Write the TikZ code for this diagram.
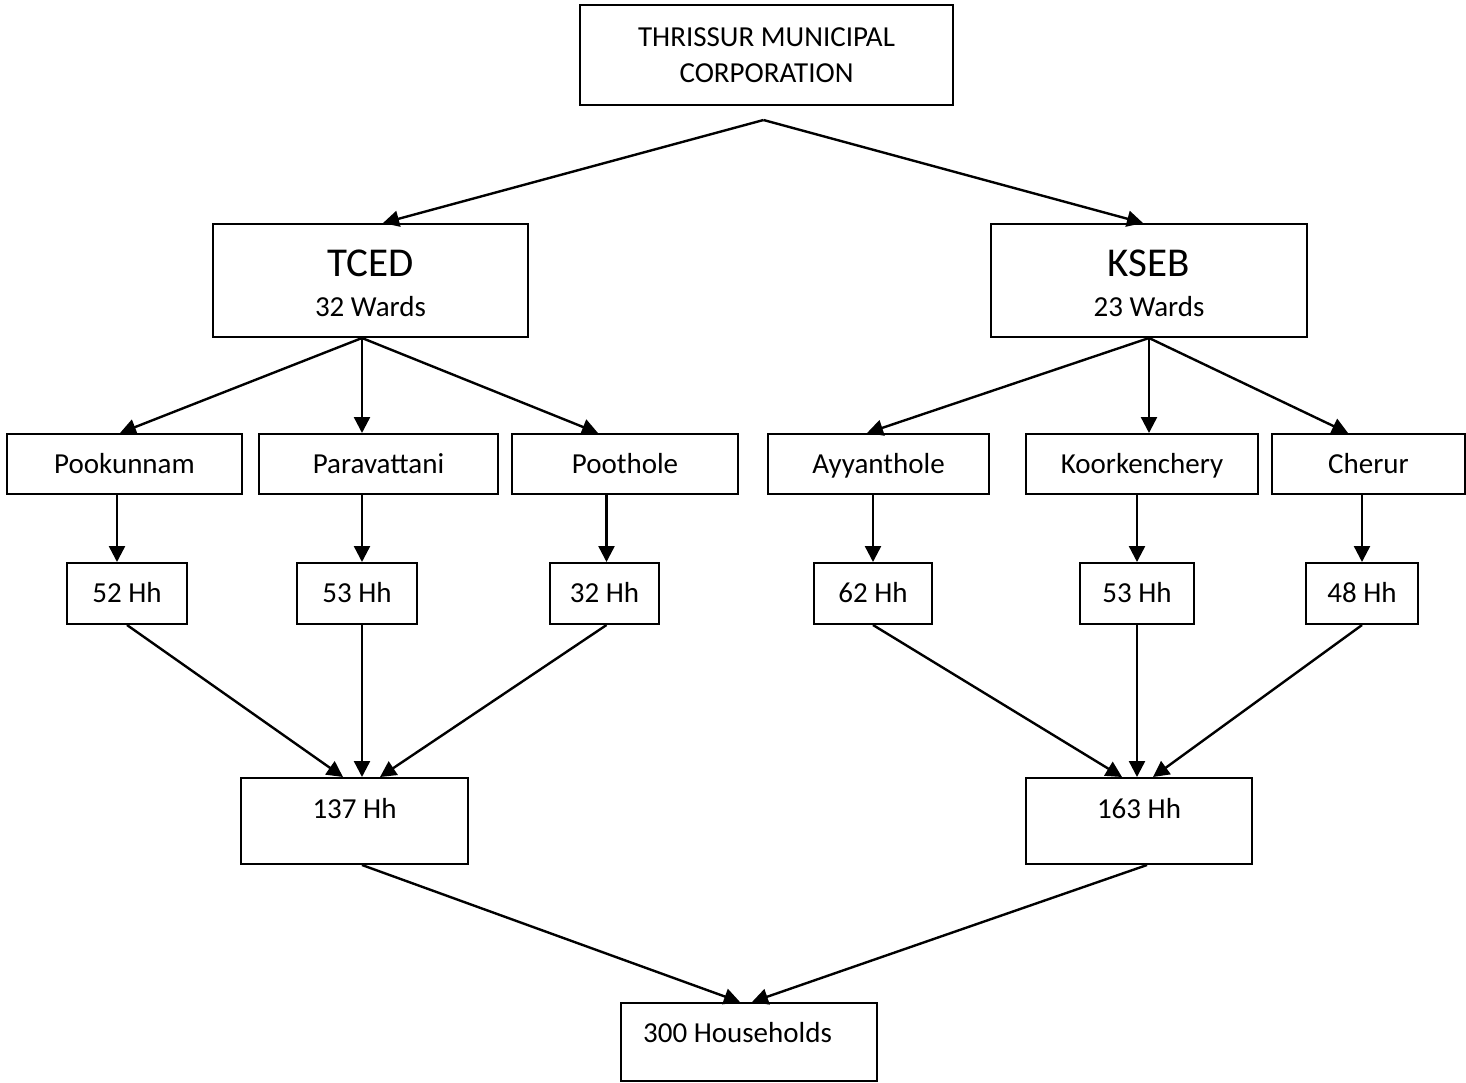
\documentclass[tikz,border=0pt]{standalone}
\usepackage{fontspec}
\setmainfont{Carlito}
\usepackage{tikz}
\usetikzlibrary{arrows.meta,calc}

\begin{document}
\begin{tikzpicture}[x=0.5pt,y=-0.5pt,>={Triangle[length=8pt,width=8pt]},
    box/.style={draw,line width=1pt,inner sep=0pt,font=\fontsize{14.5}{18}\selectfont,text height=12pt,text depth=2.66pt},
    wardbox/.style={box,minimum width=#1*0.5pt,minimum height=30pt},
    hhbox/.style={box,minimum width=#1*0.5pt,minimum height=30.5pt},
    sumbox/.style={box,minimum width=#1*0.5pt,minimum height=43pt,text depth=14.66pt},
    link/.style={->,line width=1.2pt}]
      \useasboundingbox (0,0) rectangle (1466,1082);
      \node[box,minimum width=186.5pt,minimum height=50pt,align=center,text height=,text depth=] (top) at (766.5,55) {THRISSUR MUNICIPAL\\CORPORATION};
      \node[box,minimum width=157.5pt,minimum height=56.5pt,align=center,text height=,text depth=,font=\fontsize{14.5}{20}\selectfont] (tced) at (370.5,280.5) {\rule{0pt}{16.5pt}{\fontsize{20.5}{20}\selectfont TCED}\\32 Wards};
      \node[box,minimum width=158pt,minimum height=56.5pt,align=center,text height=,text depth=,font=\fontsize{14.5}{20}\selectfont] (kseb) at (1149,280.5) {\rule{0pt}{16.5pt}{\fontsize{20.5}{20}\selectfont KSEB}\\23 Wards};
      % wards
      \node[wardbox=235] (pook) at (124.5,464) {Pookunnam};
      \node[wardbox=239] (parav) at (378.5,464) {Paravattani};
      \node[wardbox=226] (pooth) at (625,464) {Poothole};
      \node[wardbox=221] (ayyan) at (878.5,464) {Ayyanthole};
      \node[wardbox=232] (koork) at (1142,464) {Koorkenchery};
      \node[wardbox=193] (cherur) at (1368.5,464) {Cherur};
      % households
      \node[hhbox=120] (hhpook) at (127,593.5) {52 Hh};
      \node[hhbox=120] (hhparav) at (357,593.5) {53 Hh};
      \node[hhbox=109] (hhpooth) at (604.5,593.5) {32 Hh};
      \node[hhbox=118] (hhayyan) at (873,593.5) {62 Hh};
      \node[hhbox=114] (hhkoork) at (1137,593.5) {53 Hh};
      \node[hhbox=112] (hhcherur) at (1362,593.5) {48 Hh};
      \node[sumbox=227] (sumtced) at (354.5,821) {137 Hh};
      \node[sumbox=226] (sumkseb) at (1139,821) {163 Hh};
      \node[box,minimum width=128pt,minimum height=39pt,text depth=11.66pt] (total) at (749,1042) {300 Households\hspace*{11.5pt}};
      \coordinate (topfork) at ($(top.south)+(-3,14)$);
      \coordinate (tcedfork) at ($(tced.south)+(-8.5,0)$);
      \draw[link] (topfork) -- ($(tced.north)+(12.5,0)$);
      \draw[link] (topfork) -- ($(kseb.north)+(-6,0)$);
      \draw[link] (tcedfork) -- ($(pook.north)+(-4.5,0)$);
      \draw[link] (tcedfork) -- (tcedfork |- parav.north);
      \draw[link] (tcedfork) -- ($(pooth.north)+(-27,0)$);
      \draw[link] (kseb.south) -- ($(ayyan.north)+(-11.5,0)$);
      \draw[link] (kseb.south) -- (kseb.south |- koork.north);
      \draw[link] (kseb.south) -- ($(cherur.north)+(-20.5,0)$);
      \draw[link] ([xshift=-5pt]hhpook.north |- pook.south) -- ([xshift=-5pt]hhpook.north);
      \draw[link] (tcedfork |- parav.south) -- (tcedfork |- hhparav.north);
      \draw[link] ([xshift=1pt]hhpooth.north |- pooth.south) -- ([xshift=1pt]hhpooth.north);
      \draw[link] (hhayyan.north |- ayyan.south) -- (hhayyan.north);
      \draw[link] (hhkoork.north |- koork.south) -- (hhkoork.north);
      \draw[link] (hhcherur.north |- cherur.south) -- (hhcherur.north);
      \draw[link] (hhpook.south) -- ($(sumtced.north)+(-11.5,0)$);
      \draw[link] (tcedfork |- hhparav.south) -- (tcedfork |- sumtced.north);
      \draw[link] ([xshift=1pt]hhpooth.south) -- ($(sumtced.north)+(25.5,0)$);
      \draw[link] (hhayyan.south) -- ($(sumkseb.north)+(-17,0)$);
      \draw[link] (hhkoork.south) -- (hhkoork.south |- sumkseb.north);
      \draw[link] (hhcherur.south) -- ($(sumkseb.north)+(14,0)$);
      \draw[link] ($(sumtced.south)+(7.5,0)$) -- ($(total.north)+(-9,0)$);
      \draw[link] ($(sumkseb.south)+(8,0)$) -- ($(total.north)+(3,0)$);
    \end{tikzpicture}
\end{document}
